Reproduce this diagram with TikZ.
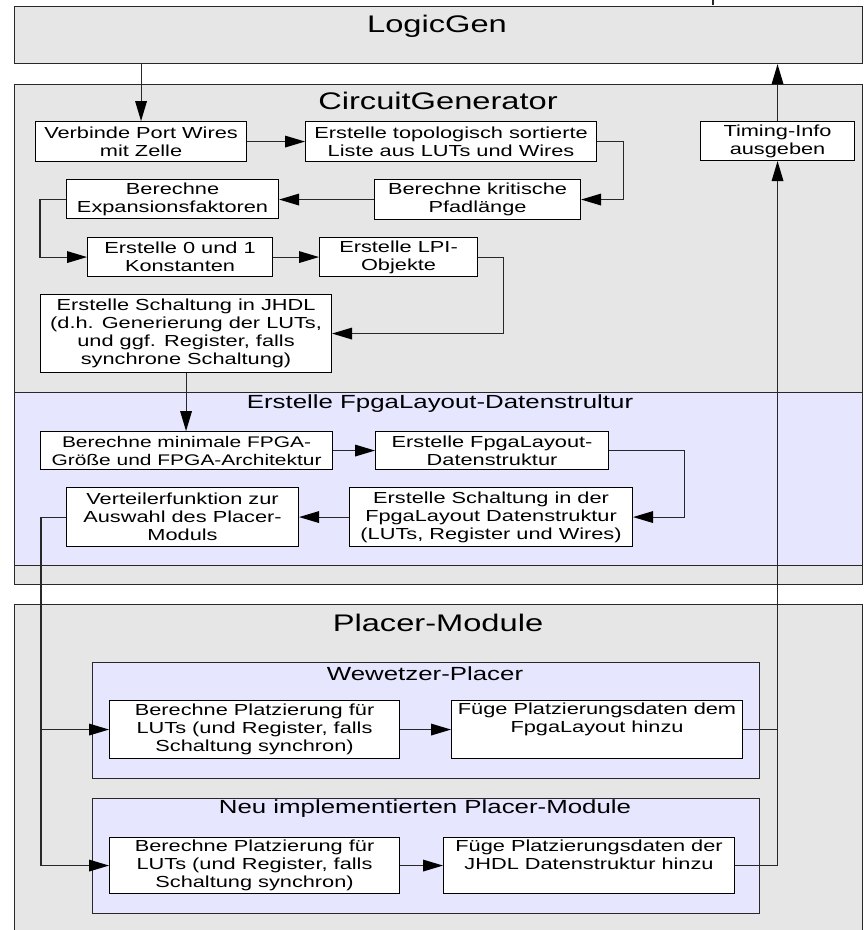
\documentclass[tikz,border=0pt]{standalone}
\usepackage{fontspec}
\setmainfont{Liberation Sans}[FakeStretch=1.36]
\usetikzlibrary{arrows.meta,calc}
\definecolor{grp}{RGB}{230,230,230}
\definecolor{lav}{RGB}{230,230,255}
\definecolor{edge}{RGB}{40,40,40}
\begin{document}
\begin{tikzpicture}[x=1pt,y=-1pt,
  box/.style={draw=black, fill=white, line width=1.1pt, inner sep=0pt, align=center, anchor=north west, font=\fontsize{16}{18}\selectfont},
  txt/.style={inner sep=0pt, align=center, anchor=north, font=\fontsize{16}{18}\selectfont},
  panel/.style={draw=edge, line width=1.2pt, anchor=north west, inner sep=0pt},
  title/.style={font=\fontsize{24}{28}\selectfont, inner sep=0pt},
  subtitle/.style={font=\fontsize{19}{22}\selectfont, inner sep=0pt},
  conn/.style={line width=1.1pt, draw=edge},
  arr/.style={conn, -{Triangle[length=20pt,width=12pt,fill=black,line width=0pt]}},
]
\useasboundingbox (0,0) rectangle (864,930);
\begin{scope}
\clip (0,0) rectangle (864,930);
% panels
\node[panel, fill=grp, minimum width=848, minimum height=57] (logicgen) at (14,6) {};
\node[title] (logicgenT) at (437,26) {LogicGen};
\node[panel, fill=grp, minimum width=848, minimum height=500] (circgen) at (14,84) {};
\node[title] (circgenT) at (438,101) {CircuitGenerator};
\node[panel, fill=lav, minimum width=848, minimum height=173] (fpga) at (14,392) {};
\node[subtitle] (fpgaT) at (440,404) {Erstelle FpgaLayout-Datenstrultur};
\node[panel, fill=grp, minimum width=848, minimum height=340] (placer) at (14,604) {};
\node[title] (placerT) at (438,623) {Placer-Module};
\node[panel, fill=lav, minimum width=667, minimum height=116] (wew) at (92,662) {};
\node[subtitle] (wewT) at (425,674) {Wewetzer-Placer};
\node[panel, fill=lav, minimum width=667, minimum height=115] (neu) at (92,798) {};
\node[subtitle] (neuT) at (425,809) {Neu implementierten Placer-Module};
\end{scope}
\coordinate (tick) at (713,0);
\draw[conn] (tick) -- ++(0,5);

% boxes
\node[box, minimum width=211, minimum height=40] (v) at (35,121) {Verbinde Port Wires\\mit Zelle};
\node[box, minimum width=291, minimum height=40] (t) at (305,121) {Erstelle topologisch sortierte\\Liste aus LUTs und Wires};
\node[box, minimum width=212, minimum height=39] (e) at (66,179) {Berechne\\Expansionsfaktoren};
\node[box, minimum width=206, minimum height=40] (k) at (374,179) {Berechne kritische\\Pfadlänge};
\node[box, minimum width=185, minimum height=39] (c) at (87,237) {Erstelle 0 und 1\\Konstanten};
\node[box, minimum width=158, minimum height=39] (l) at (319,237) {Erstelle LPI-\\Objekte};
\node[box, minimum width=291, minimum height=78] (j) at (40,294) {Erstelle Schaltung in JHDL\\(d.h. Generierung der LUTs,\\und ggf. Register, falls\\synchrone Schaltung)};
\node[box, minimum width=154, minimum height=39] (timing) at (700,121) {Timing-Info\\ausgeben};
\node[box, minimum width=292, minimum height=38, font=\fontsize{15.4}{18}\selectfont] (f1) at (40,431) {Berechne minimale FPGA-\\Größe und FPGA-Architektur};
\node[box, minimum width=233, minimum height=38] (f2) at (375,431) {Erstelle FpgaLayout-\\Datenstruktur};
\node[box, minimum width=283, minimum height=59] (f3) at (349,487) {Erstelle Schaltung in der\\FpgaLayout Datenstruktur\\(LUTs, Register und Wires)};
\node[box, minimum width=232, minimum height=59] (f4) at (66,487) {Verteilerfunktion zur\\Auswahl des Placer-\\Moduls};
\node[box, minimum width=290, minimum height=58] (w1) at (109,700) {Berechne Platzierung für\\LUTs (und Register, falls\\Schaltung synchron)};
\node[box, minimum width=291, minimum height=58] (w2) at (451,700) {};
\node[txt] (w2t) at ($(w2.north)+(0,2.5)$) {Füge Platzierungsdaten dem\\FpgaLayout hinzu};
\node[box, minimum width=290, minimum height=56] (n1) at (109,837) {Berechne Platzierung für\\LUTs (und Register, falls\\Schaltung synchron)};
\node[box, minimum width=291, minimum height=56] (n2) at (443,837) {};
\node[txt] (n2t) at ($(n2.north)+(0,2.5)$) {Füge Platzierungsdaten der\\JHDL Datenstruktur hinzu};

% connectors
\draw[arr] (logicgen.south -| v.north) -- (v.north);
\draw[arr] (v.east) -- (t.west);
\draw[arr] (t.east) -- ++(26,0) |- (k.east);
\draw[arr] (k.west) -- (k.west -| e.east);
\draw[arr] (e.west) -- ++(-26,0) |- (c.west);
\draw[arr] (c.east) -- (c.east -| l.west);
\draw[arr] (l.east) -- ++(25,0) |- (j.east);
\draw[arr] (j.south) -- (j.south |- f1.north);
\draw[arr] (f1.east) -- (f1.east -| f2.west);
\draw[arr] (f2.east) -- ++(75,0) |- (f3.east);
\draw[arr] (f3.west) -- (f3.west -| f4.east);
\coordinate (split) at ($(f4.west)+(-25,0)$);
\draw[conn] (f4.west) -- (split);
\draw[arr] (split) |- (n1.west);
\draw[arr] (w1.west -| split) -- (w1.west);
\draw[arr] (w1.east) -- (w1.east -| w2.west);
\draw[arr] (n1.east) -- (n1.east -| n2.west);
\draw[conn] (w2.east) -- (w2.east -| timing.south);
\draw[arr] (n2.east) -| (timing.south);
\draw[arr] (timing.north) -- (timing.north |- logicgen.south);
\end{tikzpicture}
\end{document}
